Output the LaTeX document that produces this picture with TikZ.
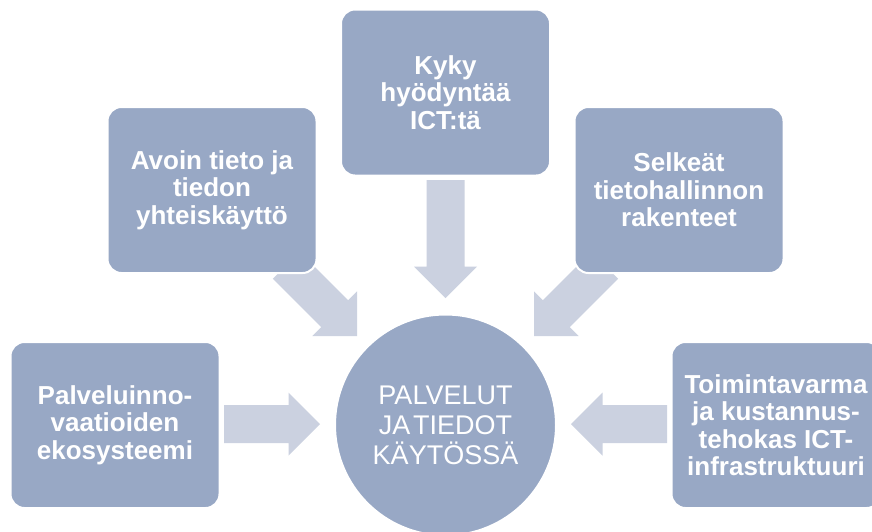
\documentclass[tikz,border=0pt]{standalone}
\usepackage{fontspec}
\setmainfont{Liberation Sans}
\usetikzlibrary{calc}
\definecolor{boxblue}{RGB}{152,168,197}
\definecolor{arrowblue}{RGB}{203,209,224}
\tikzset{
  topic/.style={rectangle, rounded corners=14pt, fill=boxblue, draw=white, line width=2pt,
    minimum width=209pt, minimum height=166pt, text=white, align=center, inner sep=0pt,
    font=\fontsize{26}{27.5}\selectfont\bfseries},
  hub/.style={circle, fill=boxblue, draw=white, line width=2pt, minimum size=221pt,
    text=white, align=center, inner sep=0pt, font=\fontsize{27}{30}\selectfont},
  arrowfill/.style={fill=arrowblue}
}
\newcommand\blockarrow[2]{%
  \path ($(#2)!31.5pt!(#1)$) coordinate (#2b);
  \fill[arrowfill] ($(#1)!19pt!90:(#2)$) -- ($(#2b)!19pt!-90:(#1)$) -- ($(#2b)!31.5pt!-90:(#1)$)
    -- (#2) -- ($(#2b)!31.5pt!90:(#1)$) -- ($(#2b)!19pt!90:(#1)$) -- ($(#1)!19pt!-90:(#2)$) -- cycle;}
\begin{document}
\begin{tikzpicture}[x=1pt,y=-1pt]
\clip (0,0) rectangle (872,531);
\fill[white] (0,0) rectangle (872,531);
% connector end points
\coordinate (tL) at (224,424);   \coordinate (pL) at (320,424);
\coordinate (tR) at (667,424);   \coordinate (pR) at (571,424);
\coordinate (tT) at (445.5,180); \coordinate (pT) at (445.5,298);
\coordinate (tDL) at (286.3,265.3); \coordinate (pDL) at (357,336);
\coordinate (tDR) at (604.7,265.3); \coordinate (pDR) at (534,336);
\blockarrow{tL}{pL}
\blockarrow{tR}{pR}
\blockarrow{tT}{pT}
\blockarrow{tDL}{pDL}
\blockarrow{tDR}{pDR}
% boxes
\node[topic] (kyky) at (445.5,92.5) {Kyky\\hyödyntää\\ICT:tä};
\node[topic] (avoin) at (212,190) {Avoin tieto ja\\tiedon\\yhteiskäyttö};
\node[topic] (selkeat) at (679,190) {Selkeät\\tietohallinnon\\rakenteet};
\node[topic] (palvelu) at (115,425) {Palveluinno-\\vaatioiden\\ekosysteemi};
\node[topic] (toiminta) at (776,425) {Toimintavarma\\ja kustannus-\\tehokas ICT-\\infrastruktuuri};
\node[hub] (hub) at (445.5,425) {PALVELUT\\JA\kern-0.18em\ TIEDOT\\KÄYTÖSSÄ};
\end{tikzpicture}
\end{document}
